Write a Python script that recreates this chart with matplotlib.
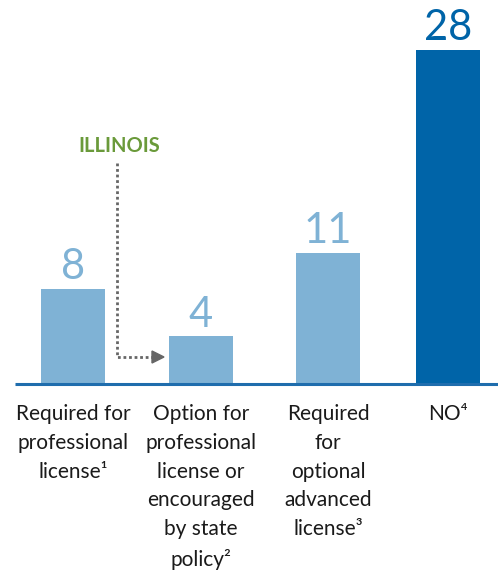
import matplotlib
matplotlib.use("Agg")
import matplotlib.pyplot as plt

categories = [
    "Required for\nprofessional\nlicense\u00b9",
    "Option for\nprofessional\nlicense or\nencouraged\nby state\npolicy\u00b2",
    "Required\nfor\noptional\nadvanced\nlicense\u00b3",
    "NO\u2074",
]
values = [8, 4, 11, 28]
annotation = "ILLINOIS"

light = "#7fb2d5"
dark = "#0064a8"
colors = [light, light, light, dark]
fam = ["Lato", "DejaVu Sans"]

W, H = 498, 580
fig = plt.figure(figsize=(W / 100, H / 100), dpi=100)
# axes in pixel units: x from 0..W, baseline at y=384 px from top
base_px = 384
top_px = 50
ax = fig.add_axes([0, 1 - base_px / H, 1, (base_px - top_px) / H])
ax.set_xlim(0, W)
ax.set_ylim(0, max(values))
ax.axis("off")

centers = [73, 201, 328, 448]
bar_w = 64
ax.bar(centers, values, width=bar_w, color=colors, zorder=2)

# baseline
ax.plot([15, W], [0, 0], color="#1f6dad", lw=2.2, solid_capstyle="butt",
        zorder=3, clip_on=False)

# value labels
for x, v, c in zip(centers, values, colors):
    ax.annotate(str(v), (x, v), xytext=(0, 2), textcoords="offset points",
                ha="center", va="bottom", fontsize=30, color=c,
                family=fam)

# category labels
for x, lab in zip(centers, categories):
    fig.text(x / W, 1 - 404 / H, lab, ha="center", va="top", fontsize=15,
             color="#1a1a1a", family=fam, linespacing=1.55)

# Illinois annotation with dotted elbow arrow
fig.text(119 / W, 1 - 146 / H, annotation, ha="center", va="center",
         fontsize=14.5, fontweight="bold", color="#6a9a3a", family=fam)
to_fig = lambda px, py: (px / W, 1 - py / H)
xs = [117, 117, 156]
ys = [163, 357, 357]
fig.add_artist(plt.Line2D([x / W for x in xs], [1 - y / H for y in ys],
                          color="#666666", lw=2, linestyle=(0, (1, 1))))
fig.add_artist(plt.Polygon([to_fig(152, 351), to_fig(152, 363), to_fig(164, 357)],
                           closed=True, color="#666666"))

fig.savefig("out.png", dpi=100)
